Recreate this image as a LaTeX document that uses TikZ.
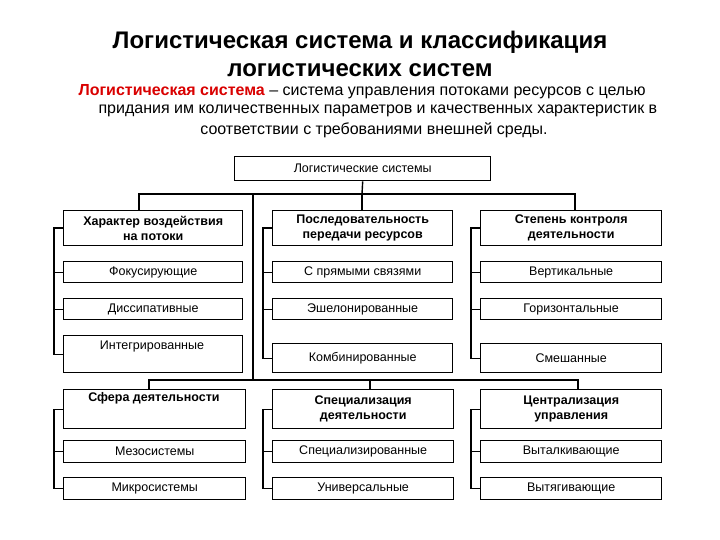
\documentclass[tikz,border=0pt]{standalone}
\usepackage{fontspec}
\setmainfont{Liberation Sans}
\begin{document}
\begin{tikzpicture}[x=1pt,y=-1pt,
  bx/.style={draw,line width=1.4pt,inner sep=0pt,anchor=north west,align=center,font=\fontsize{12.5}{15}\selectfont},
  hd/.style={bx,font=\fontsize{12.5}{15}\selectfont\bfseries},
  ln/.style={line width=1.4pt}]
\useasboundingbox (0,0) rectangle (720,540);
\node[font=\fontsize{24}{28}\selectfont\bfseries,align=center] (title) at (360,54) {Логистическая система и классификация\\логистических систем};
\node[anchor=west,font=\fontsize{16}{18}\selectfont] (d1) at (75,92) {\textcolor{red!85!black}{\bfseries Логистическая система} – система управления потоками ресурсов с целью};
\node[anchor=west,font=\fontsize{16}{18}\selectfont] (d2) at (95,111) {придания им количественных параметров и качественных характеристик в};
\node[font=\fontsize{16}{18}\selectfont] (d3) at (374,130) {соответствии с требованиями внешней среды.};
\node[bx,minimum width=256,minimum height=24] (top) at (234,156) {Логистические системы};
\node[hd,minimum width=179,minimum height=35] (h1) at (63,210) {Характер воздействия\\на потоки};
\node[hd,minimum width=180,minimum height=35] (h2) at (272,210) {Последовательность\\передачи ресурсов};
\node[hd,minimum width=181,minimum height=35] (h3) at (480,210) {Степень контроля\\деятельности};
\node[bx,minimum width=179,minimum height=21] (a1) at (63,261) {Фокусирующие};
\node[bx,minimum width=179,minimum height=21] (a2) at (63,298) {Диссипативные};
\node[bx,minimum width=179,minimum height=37] (a3) at (63,335) {};
\node[font=\fontsize{12.5}{15}\selectfont] (a3t) at (152,346) {Интегрированные};
\node[bx,minimum width=180,minimum height=21] (b1) at (272,261) {С прямыми связями};
\node[bx,minimum width=180,minimum height=21] (b2) at (272,298) {Эшелонированные};
\node[bx,minimum width=180,minimum height=29] (b3) at (272,343) {Комбинированные};
\node[bx,minimum width=181,minimum height=21] (c1) at (480,261) {Вертикальные};
\node[bx,minimum width=181,minimum height=21] (c2) at (480,298) {Горизонтальные};
\node[bx,minimum width=181,minimum height=29] (c3) at (480,343) {Смешанные};
\node[bx,minimum width=182,minimum height=39] (g1) at (63,389) {};
\node[font=\fontsize{12.5}{15}\selectfont\bfseries] (g1t) at (154,398) {Сфера деятельности};
\node[hd,minimum width=181,minimum height=39] (g2) at (272,389) {Специализация\\деятельности};
\node[hd,minimum width=181,minimum height=39] (g3) at (480,389) {Централизация\\управления};
\node[bx,minimum width=182,minimum height=22] (e1) at (63,440) {Мезосистемы};
\node[bx,minimum width=182,minimum height=22] (e2) at (63,477) {Микросистемы};
\node[bx,minimum width=181,minimum height=22] (f1) at (272,440) {Специализированные};
\node[bx,minimum width=181,minimum height=22] (f2) at (272,477) {Универсальные};
\node[bx,minimum width=181,minimum height=22] (k1) at (480,440) {Выталкивающие};
\node[bx,minimum width=181,minimum height=22] (k2) at (480,477) {Вытягивающие};
% connectors
\coordinate (j) at (362,194);
\coordinate (j2) at (370,380);
\draw[ln] (top.south) -- (j);
\draw[ln] (h1.north -| 139,210) |- (j) -| (h3.north -| 575,210);
\draw[ln] (j) -- (h2.north -| j);
\draw[ln] (253,194) -- (253,380);
\draw[ln] (g1.north -| 149,389) |- (j2) -| (g3.north -| 578,389);
\draw[ln] (j2) -- (g2.north -| j2);
\foreach \hh/\rr/\xx in {h1/a3/54,h2/b3/263,h3/c3/471,g1/e2/55,g2/f2/262,g3/k2/472}{
  \draw[ln] (\hh.west) -| ([xshift=-9pt]\rr.west) -- (\rr.west);
}
\foreach \rr in {a1,a2,b1,b2,c1,c2,e1,f1,k1}{
  \draw[ln] (\rr.west) -- ([xshift=-9pt]\rr.west);
}
\end{tikzpicture}
\end{document}
